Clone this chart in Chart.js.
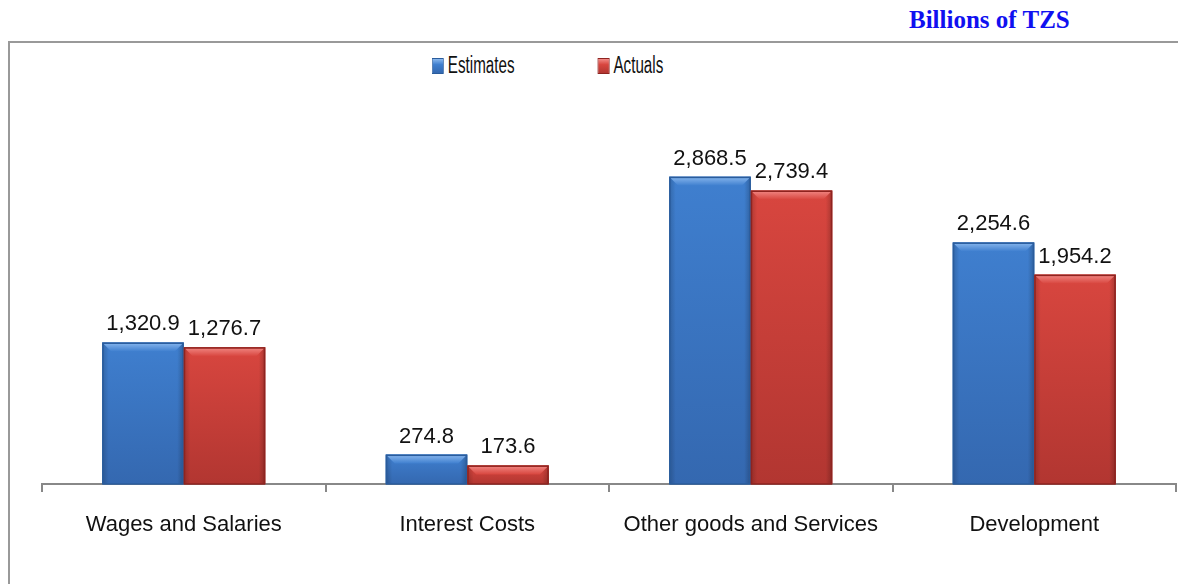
<!DOCTYPE html>
<html>
<head>
<meta charset="utf-8">
<script src="https://cdn.jsdelivr.net/npm/chart.js@4.4.1/dist/chart.umd.min.js"></script>
<style>
  html, body { margin: 0; padding: 0; background: #fff; }
  #wrap { position: relative; width: 1178px; height: 584px; overflow: hidden; }
  #frame { position: absolute; left: 8px; top: 41px; right: -4px; bottom: -4px;
           border-top: 2px solid #999; border-left: 2px solid #999; }
  #unit { position: absolute; left: 909px; top: 6px; font: bold 25px "Liberation Serif", serif; color: #1010f0; }
  #legend { position: absolute; top: 52px; left: 432px; display: flex; font: 23px "Liberation Sans", sans-serif; color: #111;
            transform: scaleX(0.66); transform-origin: 0 0; }
  #legend .item { display: flex; align-items: center; margin-right: 126px; }
  #legend .box { width: 16px; height: 14px; margin-right: 6px; }
  canvas { position: absolute; left: 0; top: 0; }
</style>
</head>
<body>
<div id="wrap">
  <div id="frame"></div>
  <div id="unit">Billions of TZS</div>
  <div id="legend"></div>
  <canvas id="expChart" width="1178" height="584"></canvas>
</div>
<script>
const categories = ['Wages and Salaries', 'Interest Costs', 'Other goods and Services', 'Development'];
const estimates = [1320.9, 274.8, 2868.5, 2254.6];
const actuals = [1276.7, 173.6, 2739.4, 1954.2];

const blue = { face: '#3f7fcf', top: '#8ab8ee', edge: '#2a5c9c', dark: '#3468b0' };
const red = { face: '#d8463f', top: '#f28a86', edge: '#8e2420', dark: '#b23631' };

function fmt(v) {
    return v.toLocaleString('en-US', { minimumFractionDigits: 1, maximumFractionDigits: 1 });
}

// bevelled look on each bar plus its value label
const barStyle = {
    id: 'barStyle',
    afterDatasetsDraw(chart) {
        const ctx = chart.ctx;
        chart.data.datasets.forEach((ds, di) => {
            const pal = di === 0 ? blue : red;
            chart.getDatasetMeta(di).data.forEach((bar, i) => {
                const l = bar.x - bar.width / 2, r = bar.x + bar.width / 2;
                const t = bar.y, b = bar.base;
                const h = b - t;
                ctx.save();
                // vertical shading
                const g = ctx.createLinearGradient(0, t, 0, b);
                g.addColorStop(0, pal.face);
                g.addColorStop(1, pal.dark);
                ctx.fillStyle = g;
                ctx.fillRect(l, t, r - l, h);
                // side shading
                const sg = ctx.createLinearGradient(l, 0, r, 0);
                sg.addColorStop(0, 'rgba(0,0,0,0.18)');
                sg.addColorStop(0.08, 'rgba(0,0,0,0)');
                sg.addColorStop(0.92, 'rgba(0,0,0,0)');
                sg.addColorStop(1, 'rgba(0,0,0,0.22)');
                ctx.fillStyle = sg;
                ctx.fillRect(l, t, r - l, h);
                // top highlight
                const bev = Math.min(9, h / 2);
                const tg = ctx.createLinearGradient(0, t, 0, t + bev);
                tg.addColorStop(0, pal.top);
                tg.addColorStop(1, pal.face);
                ctx.fillStyle = tg;
                ctx.beginPath();
                ctx.moveTo(l + 1, t + 1);
                ctx.lineTo(r - 1, t + 1);
                ctx.lineTo(r - bev, t + bev);
                ctx.lineTo(l + bev, t + bev);
                ctx.closePath();
                ctx.fill();
                ctx.strokeStyle = pal.edge;
                ctx.lineWidth = 1.5;
                ctx.strokeRect(l + 0.75, t + 0.75, r - l - 1.5, h - 0.75);
                // value label
                ctx.fillStyle = '#111';
                ctx.font = '22px "Liberation Sans", Arial, sans-serif';
                ctx.textAlign = 'center';
                ctx.textBaseline = 'alphabetic';
                ctx.fillText(fmt(ds.data[i]), bar.x, t - 12);
                ctx.restore();
            });
        });
    }
};

const chart = new Chart(document.getElementById('expChart'), {
    type: 'bar',
    data: {
        labels: categories,
        datasets: [{
            label: 'Estimates',
            data: estimates,
            backgroundColor: blue.face
        }, {
            label: 'Actuals',
            data: actuals,
            backgroundColor: red.face
        }]
    },
    options: {
        responsive: false,
        animation: false,
        layout: {
            padding: { left: 42, right: 2, top: 109, bottom: 0 }
        },
        datasets: {
            bar: { barPercentage: 1, categoryPercentage: 0.575 }
        },
        plugins: {
            legend: { display: false },
            tooltip: { enabled: false }
        },
        scales: {
            x: {
                afterFit(scale) { scale.height = 100; },
                grid: { drawOnChartArea: false, color: '#888', tickLength: 8, lineWidth: 2 },
                border: { color: '#888', width: 2 },
                ticks: {
                    color: '#111',
                    padding: 20,
                    maxRotation: 0,
                    autoSkip: false,
                    font: { family: '"Liberation Sans", Arial, sans-serif', size: 22 }
                }
            },
            y: {
                display: false,
                min: 0,
                max: 3500
            }
        }
    },
    plugins: [barStyle]
});

// legend built from the datasets
const legend = document.getElementById('legend');
chart.data.datasets.forEach((ds, i) => {
    const pal = i === 0 ? blue : red;
    const item = document.createElement('div');
    item.className = 'item';
    const box = document.createElement('span');
    box.className = 'box';
    box.style.background = 'linear-gradient(' + pal.top + ', ' + pal.face + ' 40%, ' + pal.dark + ')';
    box.style.border = '1px solid ' + pal.edge;
    item.appendChild(box);
    item.appendChild(document.createTextNode(ds.label));
    legend.appendChild(item);
});
</script>
</body>
</html>
